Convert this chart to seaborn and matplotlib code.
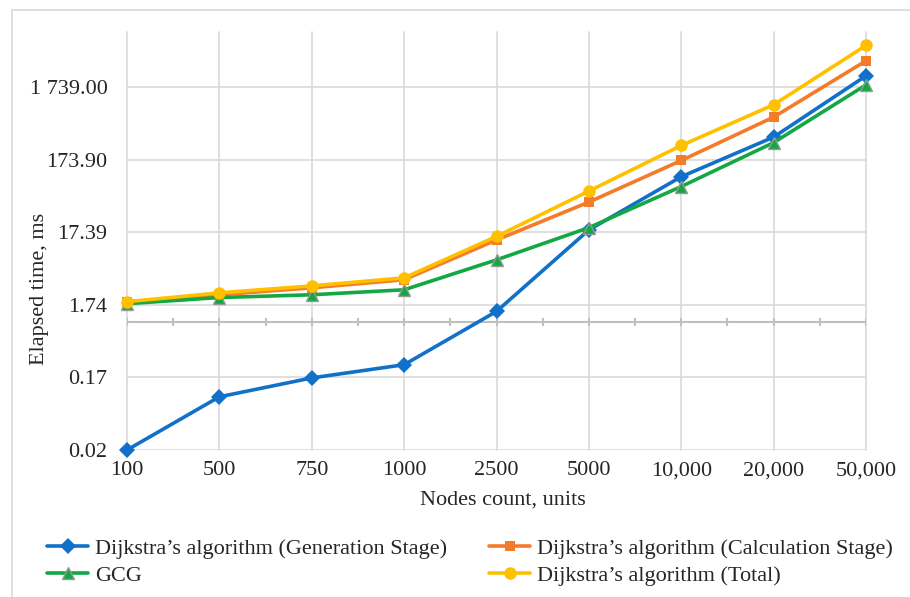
import matplotlib
matplotlib.use("Agg")
import matplotlib.pyplot as plt
from matplotlib.patches import Rectangle
import seaborn as sns
import numpy as np
import pandas as pd

categories = ["100", "500", "750", "1000", "2500", "5000", "10,000", "20,000", "50,000"]
generation = [0.0174, 0.094, 0.171, 0.260, 1.41, 18.7, 101, 355, 2479]
calculation = [1.90, 2.39, 2.98, 3.85, 13.6, 45.2, 169, 669, 3990]
gcg = [1.80, 2.19, 2.39, 2.80, 7.23, 20.1, 74, 298, 1860]
total = [1.92, 2.54, 3.17, 4.09, 15.2, 64, 272, 990, 6500]
ytick_values = [0.01739, 0.1739, 1.739, 17.39, 173.9, 1739]
ytick_labels = ["0.02", "0.17", "1.74", "17.39", "173.90", "1 739.00"]
series_names = ["Dijkstra\u2019s algorithm (Generation Stage)",
                "Dijkstra\u2019s algorithm (Calculation Stage)",
                "GCG",
                "Dijkstra\u2019s algorithm (Total)"]

sns.set_style("white")
plt.rcParams["font.family"] = ["Liberation Serif", "DejaVu Serif"]
FS = 16

W, H = 910, 597
fig = plt.figure(figsize=(W / 100, H / 100), dpi=100)
L, R, T, B = 127, 866, 32, 450
ax = fig.add_axes([L / W, 1 - B / H, (R - L) / W, (B - T) / H])

fig.patches.append(Rectangle((12 / W, -0.1), 1.2, 1 - 10 / H + 0.1,
                             transform=fig.transFigure, fill=False,
                             edgecolor="#d9d9d9", linewidth=1.2, zorder=0))

ax.set_yscale("log")
ax.set_ylim(0.01739, 9950)
ax.set_xlim(0, len(categories) - 1)

# grid
grid_c = "#d9d9d9"
for yv in ytick_values:
    ax.axhline(yv, color=grid_c, lw=1.2, zorder=0.5)
for i in range(len(categories)):
    ax.axvline(i, color=grid_c, lw=1.2, zorder=0.5, clip_on=False)
for s in ax.spines.values():
    s.set_visible(False)

# horizontal axis crossing at 1
ax.axhline(1.0, color="#bfbfbf", lw=1.5, zorder=0.6)
tick_pos = np.arange(0, len(categories) - 0.99, 0.5)
ax.vlines(tick_pos, 10 ** (-4 / 72.6), 10 ** (4 / 72.6), color="#bfbfbf", lw=1.5, zorder=0.6)

x = np.arange(len(categories))
colors = ["#1170C8", "#F47B2A", "#14A845", "#FFC000"]
markers = ["D", "s", "^", "o"]
msizes = [8, 7.5, 9, 9]
data = [generation, calculation, gcg, total]
handles = []
for name, vals, c, m, ms in zip(series_names, data, colors, markers, msizes):
    df = pd.DataFrame({"x": x, "y": vals})
    mec = "#999999" if m == "^" else c
    sns.lineplot(data=df, x="x", y="y", ax=ax, color=c, lw=2.6, marker=m,
                 markersize=ms, markeredgecolor=mec, markeredgewidth=1.0 if m == "^" else 0,
                 zorder=3, clip_on=False)
    handles.append(ax.lines[-1])

ax.set_yticks(ytick_values)
ax.set_yticklabels(ytick_labels, fontsize=FS)
ax.minorticks_off()
ax.set_xticks(x)
ax.set_xticklabels(categories, fontsize=FS)
ax.tick_params(axis="y", length=0, pad=14)
ax.tick_params(axis="x", length=0, pad=8)
ax.set_xlabel("")
ax.set_ylabel("")

fig.text(40 / W, 1 - 289 / H, "Elapsed time, ms", rotation=90, ha="center", va="center", fontsize=FS)
fig.text(503 / W, 1 - 500 / H, "Nodes count, units", ha="center", va="center", fontsize=FS)

order = [0, 2, 1, 3]
leg = fig.legend([handles[i] for i in order], [series_names[i] for i in order],
                 ncol=2, loc="center left", bbox_to_anchor=(47 / W, 1 - 562 / H),
                 frameon=False, fontsize=FS, handlelength=1.85, handletextpad=0.3,
                 columnspacing=1.9, labelspacing=0.3, borderaxespad=0, borderpad=0)

fig.savefig("out.png", dpi=100)
